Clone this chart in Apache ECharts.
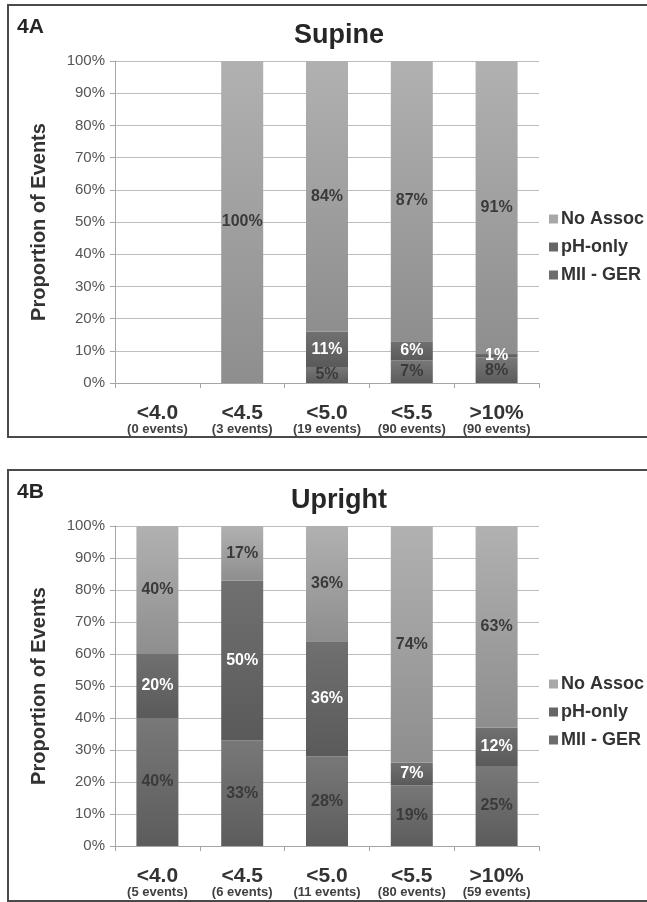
<!DOCTYPE html>
<html>
<head>
<meta charset="utf-8">
<script src="https://cdn.jsdelivr.net/npm/echarts@6/dist/echarts.min.js"></script>
<style>
  html, body { margin: 0; padding: 0; background: #fff; }
  #chart { width: 647px; height: 902px; }
</style>
</head>
<body>
<div id="chart"></div>
<script>
// Reflux event association by pH threshold, supine vs upright
const categories = ['<4.0', '<4.5', '<5.0', '<5.5', '>10%'];
const supineEvents = [0, 3, 19, 90, 90];
const uprightEvents = [5, 6, 11, 80, 59];

// Supine (4A) percentages
const supineMII = [0, 0, 5, 7, 8];
const supinePH = [0, 0, 11, 6, 1];
const supineNoAssoc = [0, 100, 84, 87, 91];

// Upright (4B) percentages
const uprightMII = [40, 33, 28, 19, 25];
const uprightPH = [20, 50, 36, 7, 12];
const uprightNoAssoc = [40, 17, 36, 74, 63];

const yTicks = [0, 10, 20, 30, 40, 50, 60, 70, 80, 90, 100];

const FONT = "'Liberation Sans', Arial, sans-serif";

function grad(top, bottom) {
  return new echarts.graphic.LinearGradient(0, 0, 0, 1, [
    { offset: 0, color: top },
    { offset: 1, color: bottom }
  ]);
}

const seriesStyle = {
  'MII - GER': { color: grad('#787878', '#5c5c5c'), label: '#3a3a3a' },
  'pH-only': { color: grad('#707070', '#5a5a5a'), label: '#ffffff' },
  'No Assoc': { color: grad('#b1b1b1', '#8e8e8e'), label: '#3a3a3a' }
};
const legendColors = { 'No Assoc': '#a8a8a8', 'pH-only': '#666666', 'MII - GER': '#6c6c6c' };

function makeSeries(name, data, idx) {
  return {
    name: name,
    type: 'bar',
    stack: 'panel' + idx,
    xAxisIndex: idx,
    yAxisIndex: idx,
    barWidth: 42,
    data: data,
    itemStyle: { color: seriesStyle[name].color },
    label: {
      show: true,
      position: 'inside',
      color: seriesStyle[name].label,
      fontFamily: FONT,
      fontWeight: 'bold',
      fontSize: 16,
      formatter: p => (p.value ? p.value + '%' : '')
    },
    emphasis: { disabled: true }
  };
}

function xAxis(idx, events) {
  return {
    type: 'category',
    gridIndex: idx,
    data: categories,
    axisLine: { lineStyle: { color: '#a6a6a6', width: 1 } },
    axisTick: { show: true, length: 5, lineStyle: { color: '#a6a6a6' } },
    axisLabel: {
      margin: 22,
      interval: 0,
      formatter: (v, i) => '{a|' + v + '}\n{b|(' + events[i] + ' events)}',
      rich: {
        a: { fontFamily: FONT, fontWeight: 'bold', fontSize: 21, color: '#333333', lineHeight: 17 },
        b: { fontFamily: FONT, fontWeight: 'bold', fontSize: 13, color: '#404040', lineHeight: 14 }
      }
    }
  };
}

function yAxis(idx) {
  return {
    type: 'value',
    gridIndex: idx,
    min: yTicks[0],
    max: yTicks[yTicks.length - 1],
    interval: yTicks[1] - yTicks[0],
    name: 'Proportion of Events',
    nameLocation: 'middle',
    nameRotate: 90,
    nameGap: 66,
    nameTextStyle: { fontFamily: FONT, fontWeight: 'bold', fontSize: 20, color: '#333333' },
    axisLine: { show: true, lineStyle: { color: '#a6a6a6' } },
    axisTick: { show: true, length: 5, lineStyle: { color: '#a6a6a6' } },
    axisLabel: {
      margin: 10,
      formatter: '{value}%',
      fontFamily: FONT,
      fontSize: 15,
      color: '#555555'
    },
    splitLine: { lineStyle: { color: '#bdbdbd', width: 1 } }
  };
}

function legend(top) {
  return {
    orient: 'vertical',
    left: 544,
    top: top,
    itemWidth: 9,
    itemHeight: 9,
    itemGap: 10,
    icon: 'rect',
    selectedMode: false,
    data: ['No Assoc', 'pH-only', 'MII - GER'].map(n => ({
      name: n,
      itemStyle: { color: legendColors[n] }
    })),
    textStyle: { fontFamily: FONT, fontWeight: 'bold', fontSize: 18, color: '#333333', padding: [0, 0, 0, -2] }
  };
}

const chart = echarts.init(document.getElementById('chart'), null, { renderer: 'canvas' });

chart.setOption({
  backgroundColor: '#ffffff',
  animation: false,
  title: [
    { text: 'Supine', left: 334, top: 17, textAlign: 'center',
      textStyle: { fontFamily: FONT, fontWeight: 'bold', fontSize: 27, color: '#262626' } },
    { text: '4A', left: 12, top: 12,
      textStyle: { fontFamily: FONT, fontWeight: 'bold', fontSize: 21, color: '#262626' } },
    { text: 'Upright', left: 334, top: 482, textAlign: 'center',
      textStyle: { fontFamily: FONT, fontWeight: 'bold', fontSize: 27, color: '#262626' } },
    { text: '4B', left: 12, top: 477,
      textStyle: { fontFamily: FONT, fontWeight: 'bold', fontSize: 21, color: '#262626' } }
  ],
  legend: [legend(205), legend(670)],
  grid: [
    { left: 115, top: 61, width: 424, height: 322 },
    { left: 115, top: 526, width: 424, height: 320 }
  ],
  xAxis: [xAxis(0, supineEvents), xAxis(1, uprightEvents)],
  yAxis: [yAxis(0), yAxis(1)],
  series: [
    makeSeries('MII - GER', supineMII, 0),
    makeSeries('pH-only', supinePH, 0),
    makeSeries('No Assoc', supineNoAssoc, 0),
    makeSeries('MII - GER', uprightMII, 1),
    makeSeries('pH-only', uprightPH, 1),
    makeSeries('No Assoc', uprightNoAssoc, 1)
  ],
  graphic: [
    { type: 'rect', shape: { x: 8, y: 5, width: 660, height: 432 },
      style: { fill: 'none', stroke: '#4a4a4a', lineWidth: 2 }, silent: true },
    { type: 'rect', shape: { x: 8, y: 470, width: 660, height: 431 },
      style: { fill: 'none', stroke: '#4a4a4a', lineWidth: 2 }, silent: true }
  ]
});
</script>
</body>
</html>
